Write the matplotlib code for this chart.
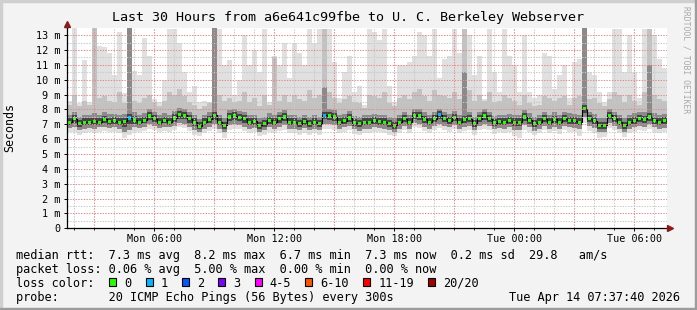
import datetime as dt

import matplotlib
matplotlib.use("Agg")
import matplotlib.pyplot as plt
import matplotlib.dates as mdates
from matplotlib.patches import Rectangle
import numpy as np

plt.rcParams['font.family'] = ['DejaVu Sans Mono']

# ---- data (15 minute steps, 30 hours, values in ms) ----
start = dt.datetime(2026, 4, 13, 1, 37, 40)
end = dt.datetime(2026, 4, 14, 7, 37, 40)

lat_med = [
    7.15, 7.38, 7.04, 7.15, 7.15, 7.20, 7.15, 7.33, 7.20, 7.24, 7.15, 7.20, 7.42, 7.29, 7.15,
    7.27, 7.56, 7.38, 7.15, 7.27, 7.15, 7.42, 7.65, 7.60, 7.38, 7.15, 6.88, 7.15, 7.33, 7.60,
    7.15, 6.93, 7.49, 7.56, 7.47, 7.38, 7.15, 7.20, 6.93, 7.04, 7.27, 7.15, 7.38, 7.49, 7.15,
    7.15, 7.04, 7.20, 7.04, 7.15, 7.04, 7.60, 7.56, 7.49, 7.15, 7.24, 7.42, 7.11, 7.04, 7.15,
    7.15, 7.27, 7.20, 7.15, 7.04, 6.93, 7.15, 7.38, 7.15, 7.60, 7.56, 7.33, 7.15, 7.38, 7.65,
    7.38, 7.24, 7.45, 7.15, 7.33, 7.38, 7.04, 7.38, 7.56, 7.38, 7.11, 7.20, 7.15, 7.24, 7.15,
    7.15, 7.49, 7.27, 7.04, 7.15, 7.38, 7.15, 7.33, 7.15, 7.38, 7.27, 7.24, 7.15, 8.05, 7.38,
    7.24, 6.93, 6.93, 7.60, 7.38, 7.15, 6.93, 7.15, 7.27, 7.38, 7.33, 7.49, 7.27, 7.15, 7.24,
]
lat_lo = [
    6.75, 6.85, 6.60, 6.70, 6.75, 6.70, 6.80, 6.85, 6.75, 6.80, 6.70, 6.50, 6.60, 6.80, 6.75,
    6.85, 7.00, 6.90, 6.75, 6.85, 6.80, 6.90, 7.10, 7.05, 6.85, 6.60, 6.45, 6.70, 6.85, 7.00,
    6.70, 6.45, 6.95, 7.00, 6.95, 6.85, 6.70, 6.75, 6.50, 6.60, 6.80, 6.70, 6.85, 6.95, 6.70,
    6.70, 6.60, 6.75, 6.60, 6.70, 6.60, 7.05, 7.00, 6.95, 6.70, 6.80, 6.90, 6.65, 6.55, 6.70,
    6.70, 6.80, 6.75, 6.70, 6.60, 6.50, 6.70, 6.90, 6.70, 7.10, 7.05, 6.85, 6.70, 6.90, 7.05,
    6.90, 6.80, 6.95, 6.70, 6.85, 6.90, 6.60, 6.90, 7.05, 6.90, 6.65, 6.75, 6.70, 6.80, 6.60,
    6.60, 6.95, 6.80, 6.55, 6.70, 6.90, 6.70, 6.85, 6.70, 6.90, 6.80, 6.75, 6.70, 7.50, 6.90,
    6.75, 6.45, 6.45, 7.10, 6.90, 6.70, 6.45, 6.70, 6.80, 6.90, 6.85, 7.00, 6.80, 6.70, 6.75,
]
lat_min = [
    6.45, 6.50, 6.30, 6.40, 6.45, 6.40, 6.50, 6.55, 6.45, 6.50, 6.40, 6.10, 6.30, 6.50, 6.45,
    6.55, 6.70, 6.60, 6.50, 6.55, 6.50, 6.60, 6.80, 6.75, 6.55, 6.30, 6.20, 6.40, 6.55, 6.70,
    6.40, 6.10, 6.60, 6.70, 6.65, 6.55, 6.40, 6.45, 6.20, 6.30, 6.50, 6.40, 6.55, 6.60, 6.40,
    6.40, 6.30, 6.40, 6.30, 6.40, 6.30, 6.70, 6.70, 6.60, 6.40, 6.50, 6.60, 6.35, 6.25, 6.40,
    6.40, 6.50, 6.45, 6.40, 6.30, 6.20, 6.40, 6.60, 6.40, 6.80, 6.75, 6.55, 6.40, 6.60, 6.75,
    6.60, 6.50, 6.65, 6.40, 6.55, 6.60, 6.30, 6.60, 6.70, 6.60, 6.35, 6.45, 6.40, 6.50, 6.20,
    6.10, 6.60, 6.45, 6.25, 6.40, 6.60, 6.40, 6.55, 6.35, 6.60, 6.50, 6.45, 6.20, 7.10, 6.55,
    6.40, 6.10, 6.15, 6.75, 6.60, 6.40, 6.15, 6.40, 6.50, 6.60, 6.55, 6.70, 6.50, 6.40, 6.45,
]
lat_hi = [
    7.60, 7.85, 7.50, 7.65, 7.60, 7.75, 7.60, 7.80, 7.70, 7.70, 7.60, 7.70, 13.5, 7.80, 7.60,
    7.75, 8.00, 7.85, 7.60, 7.75, 7.65, 7.90, 8.10, 8.05, 7.85, 7.60, 7.35, 7.60, 7.80, 13.5,
    7.60, 7.40, 7.95, 8.00, 7.90, 7.85, 7.60, 7.65, 7.40, 7.50, 7.75, 7.60, 7.85, 7.95, 7.60,
    7.60, 7.50, 7.65, 7.50, 7.60, 7.50, 9.50, 8.00, 7.95, 7.60, 7.70, 7.90, 7.55, 7.50, 7.60,
    7.60, 7.70, 7.65, 7.60, 7.50, 7.40, 7.60, 7.85, 7.60, 8.05, 8.00, 7.80, 7.60, 7.85, 8.05,
    7.85, 7.70, 7.90, 7.60, 10.5, 7.85, 7.50, 7.85, 8.00, 7.85, 7.55, 7.65, 7.60, 7.70, 7.60,
    7.60, 7.95, 7.75, 7.50, 7.60, 7.85, 7.60, 7.80, 7.60, 7.85, 7.75, 7.70, 7.60, 13.5, 7.85,
    7.70, 7.40, 7.40, 8.05, 7.85, 7.60, 7.40, 7.60, 7.75, 7.85, 7.80, 11.0, 7.75, 7.60, 7.70,
]
lat_p90 = [
    8.3, 9.0, 8.2, 8.6, 8.3, 13.5, 8.8, 8.9, 8.6, 8.5, 9.2, 8.4, 13.5, 8.6, 8.4,
    8.8, 9.0, 8.5, 8.2, 8.6, 9.2, 9.0, 9.4, 8.9, 8.5, 8.3, 8.0, 8.2, 8.4, 13.5,
    9.0, 8.6, 8.8, 8.5, 8.6, 9.2, 8.5, 8.8, 8.2, 9.0, 8.3, 11.5, 8.6, 9.0, 8.5,
    9.0, 8.7, 8.6, 9.3, 8.8, 9.0, 13.4, 9.2, 8.8, 8.4, 8.7, 8.9, 8.5, 8.4, 8.1,
    9.0, 8.9, 8.8, 9.2, 8.4, 8.2, 8.8, 9.0, 8.7, 9.2, 9.4, 8.9, 8.6, 9.3, 9.0,
    8.9, 8.8, 9.2, 8.7, 13.4, 9.3, 8.6, 9.0, 8.6, 9.2, 8.5, 8.6, 9.0, 8.8, 8.6,
    8.3, 9.0, 8.4, 8.2, 8.3, 8.9, 8.8, 8.6, 8.8, 8.9, 8.3, 8.8, 8.9, 13.5, 8.7,
    8.8, 8.4, 8.2, 8.7, 9.2, 9.0, 8.5, 9.0, 8.6, 8.3, 9.2, 13.4, 9.0, 8.7, 8.6,
]
lat_max = [
    8.6, 13.5, 8.4, 11.3, 8.5, 13.5, 12.3, 12.2, 11.8, 10.3, 13.2, 9.1, 13.5, 10.6, 10.3,
    12.8, 11.6, 8.7, 8.5, 10.0, 13.4, 13.4, 12.5, 10.5, 9.2, 9.6, 8.5, 8.6, 8.5, 13.5,
    13.4, 11.0, 11.3, 9.0, 10.0, 13.0, 11.0, 12.0, 10.5, 13.4, 8.5, 11.6, 11.0, 12.5, 10.1,
    12.5, 11.8, 11.0, 13.4, 12.5, 13.4, 13.4, 13.4, 11.2, 8.8, 10.5, 11.6, 9.2, 9.6, 8.3,
    13.4, 13.2, 12.7, 13.4, 9.6, 8.5, 11.0, 11.0, 11.2, 11.6, 13.2, 13.0, 11.6, 13.4, 10.1,
    11.4, 11.6, 13.4, 11.8, 13.4, 13.0, 10.3, 11.6, 8.7, 13.4, 10.5, 9.2, 13.4, 11.6, 11.0,
    9.2, 13.0, 9.2, 8.8, 9.0, 11.8, 11.6, 9.4, 10.3, 11.0, 8.8, 11.2, 11.4, 13.5, 10.5,
    10.3, 9.2, 8.5, 9.2, 13.4, 13.4, 10.5, 13.0, 10.5, 8.8, 13.4, 13.4, 13.0, 11.4, 10.8,
]
one_loss_steps = [12, 51, 74]

y_ticks = list(range(14))
y_labels = ["0"] + [f"{v} m" for v in range(1, 14)]

loss_labels = ["0", "1", "2", "3", "4-5", "6-10", "11-19", "20/20"]
loss_colors = ["#26ff00", "#00b8ff", "#0059ff", "#7e00ff",
               "#ff00ff", "#ff5500", "#ff0000", "#a10000"]

title = "Last 30 Hours from a6e641c99fbe to U. C. Berkeley Webserver"
legend_lines = [
    "median rtt:  7.3 ms avg  8.2 ms max  6.7 ms min  7.3 ms now  0.2 ms sd  29.8   am/s",
    "packet loss: 0.06 % avg  5.00 % max  0.00 % min  0.00 % now",
    "loss color:",
    "probe:       20 ICMP Echo Pings (56 Bytes) every 300s",
]
stamp = "Tue Apr 14 07:37:40 2026"

# ---- figure ----
W, H = 697, 310
fig = plt.figure(figsize=(W / 100, H / 100), dpi=100, facecolor="#f3f3f3")


def fx(px):
    return px / W


def fy(py):
    return 1 - py / H


# frame shading like rrdtool
fig.patches.append(Rectangle((0, 0), fx(2), 1, transform=fig.transFigure, color="#cfcfcf", zorder=0))
fig.patches.append(Rectangle((0, fy(2)), 1, 2 / H, transform=fig.transFigure, color="#cfcfcf", zorder=0))
fig.patches.append(Rectangle((fx(W - 2), 0), fx(2), 1, transform=fig.transFigure, color="#9c9c9c", zorder=0))
fig.patches.append(Rectangle((0, 0), 1, 2 / H, transform=fig.transFigure, color="#9c9c9c", zorder=0))

ax = fig.add_axes([fx(67), fy(228.3), fx(600), 200.6 / H])
ax.set_facecolor("white")

n = len(lat_med)
step = (end - start) / n
edges = mdates.date2num([start + step * i for i in range(n + 1)])
centers = (edges[:-1] + edges[1:]) / 2


def ext(a):
    a = np.asarray(a, dtype=float)
    return np.r_[a, a[-1]]


med = np.asarray(lat_med)
lo = np.asarray(lat_lo)
hi = np.asarray(lat_hi)

# smoke: light outer pings, darker towards the median
ax.fill_between(edges, ext(lat_min), ext(lat_max), step="post", color="#e0e0e0", lw=0, zorder=1)
ax.fill_between(edges, ext(lat_lo), ext(lat_p90), step="post", color="#c2c2c2", lw=0, zorder=2)
ax.fill_between(edges, ext(lat_lo), ext(lat_hi), step="post", color="#8a8a8a", lw=0, zorder=3)
ax.fill_between(edges, ext((lo + med) / 2), ext(np.minimum(hi, med + 0.25)),
                step="post", color="#454545", lw=0, zorder=4)

ax.step(edges, ext(lat_med), where="post", color="black", lw=0.8, zorder=6)
pt_colors = [loss_colors[1] if i in one_loss_steps else loss_colors[0] for i in range(n)]
ax.scatter(centers, med, marker="s", s=5, c=pt_colors, lw=0, zorder=7)

ax.set_xlim(edges[0], edges[-1])
ax.set_ylim(0, 13.5)

# grid, rrdtool style (on top of the smoke)
hour = 1 / 24
first_hour = np.ceil(edges[0] / hour) * hour
for t in np.arange(first_hour, edges[-1], hour):
    hr = int(round((t % 1) * 24)) % 24
    col = "#e58a8a" if hr % 3 == 0 else "#c8c8c8"
    ax.axvline(t, color=col, lw=0.75, ls=(0, (1.3, 1.3)), zorder=8)
for v in np.arange(0.5, 13.5, 0.5):
    col = "#e58a8a" if v % 1 == 0 else "#c8c8c8"
    ax.axhline(v, color=col, lw=0.75, ls=(0, (1.3, 1.3)), zorder=8)

for s in ["top", "right"]:
    ax.spines[s].set_visible(False)
for s in ["left", "bottom"]:
    ax.spines[s].set_color("black")
    ax.spines[s].set_linewidth(0.9)
    ax.spines[s].set_zorder(9)

ax.set_yticks(y_ticks)
ax.set_yticklabels(y_labels)
ax.xaxis.set_major_locator(mdates.HourLocator(byhour=[0, 6, 12, 18]))
ax.xaxis.set_major_formatter(mdates.DateFormatter("%a %H:%M"))
ax.xaxis.set_minor_locator(mdates.HourLocator(interval=1))
ax.tick_params(axis="both", which="major", length=2, width=0.7, labelsize=7.3, colors="black")
ax.tick_params(axis="x", which="major", pad=2)
ax.tick_params(axis="y", which="major", pad=3)
ax.tick_params(axis="x", which="minor", length=1.5, width=0.6)

# arrows at the ends of the axes
ax.plot([0, 0], [1, 1.012], transform=ax.transAxes, color="black", lw=0.9, clip_on=False, zorder=9)
ax.plot(0, 1.02, marker="^", ms=4.5, color="#8b1a1a", transform=ax.transAxes, clip_on=False, zorder=10)
ax.plot(1.005, 0, marker=">", ms=4.5, color="#8b1a1a", transform=ax.transAxes, clip_on=False, zorder=10)

# texts
fig.text(fx(348.5), fy(18), title, fontsize=9.6, ha="center", va="center")
fig.text(fx(10), fy(128), "Seconds", fontsize=8.4, rotation=90, ha="center", va="center")
fig.text(fx(686), fy(60), "RRDTOOL / TOBI OETIKER", fontsize=5.8, rotation=270,
         ha="center", va="center", color="#a9a9a9")

cw = 7.13
x0 = 16
for line, yy in zip(legend_lines, [254, 268, 282, 296]):
    fig.text(fx(x0), fy(yy), line, fontsize=8.55, ha="left", va="center_baseline")

p = 15.2
for lab, col in zip(loss_labels, loss_colors):
    bx = x0 + (p - 2.1) * cw
    fig.patches.append(Rectangle((fx(bx), fy(286)), fx(7), 8 / H, transform=fig.transFigure,
                                 facecolor=col, edgecolor="black", lw=0.8, zorder=5))
    fig.text(fx(x0 + p * cw), fy(282), lab, fontsize=8.55, ha="left", va="center_baseline")
    p += len(lab) + 4.1

fig.text(fx(680), fy(296), stamp, fontsize=8.55, ha="right", va="center_baseline")

fig.savefig("out.png", dpi=100, facecolor=fig.get_facecolor())
